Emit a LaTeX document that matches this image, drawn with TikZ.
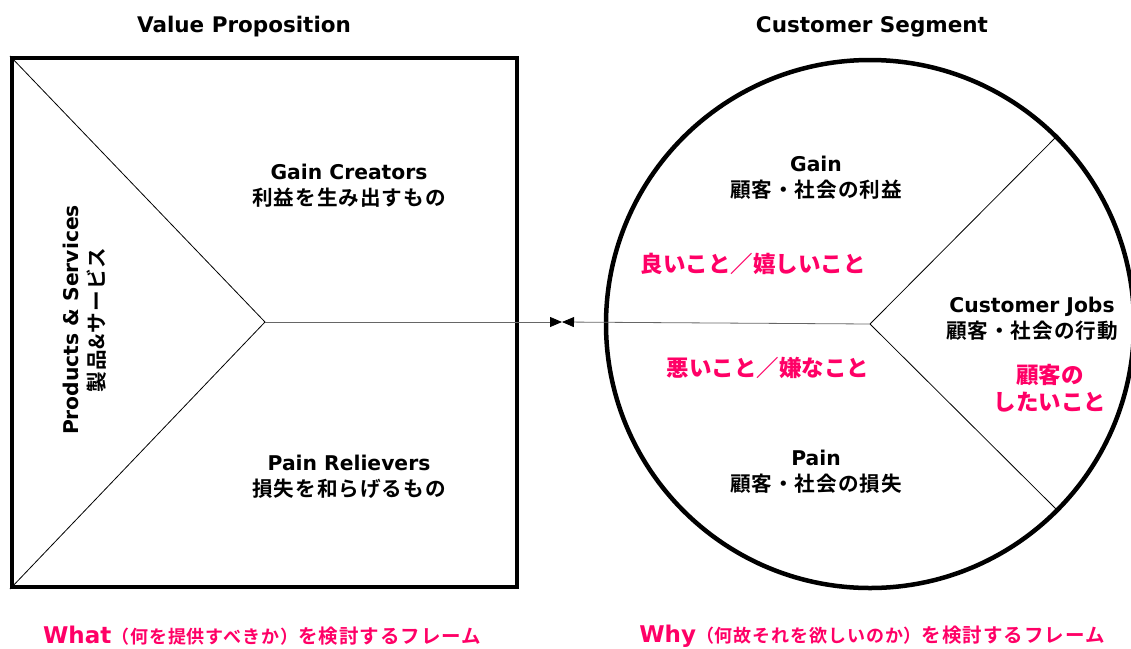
\documentclass[tikz,border=0pt]{standalone}
\usepackage{fontspec}
\setmainfont{DejaVu Sans Bold}
\newfontfamily\jp[LetterSpace=5]{Noto Sans CJK JP Bold}
\newfontfamily\blackfont{Noto Sans CJK JP Black}
\newcommand{\lat}{\fontsize{20.3}{26}\selectfont}
\newcommand{\jap}{\jp\fontsize{20.6}{26}\selectfont}
\usetikzlibrary{arrows.meta}
\definecolor{vpink}{RGB}{255,0,102}
\begin{document}
\begin{tikzpicture}[x=1pt,y=-1pt,
  lbl/.style={align=center, text=black, inner sep=0pt, font=\fontsize{20}{26}\selectfont},
  ttl/.style={font=\fontsize{21.5}{24}\selectfont, text=black},
  pnk/.style={align=center, font=\blackfont\fontsize{22.5}{27}\selectfont, text=vpink},
  bot/.style={text=vpink, inner sep=0pt},
  thin/.style={line width=0.8pt},
  tip/.style={-{Triangle[length=12pt,width=10pt,color=black]}, line width=0.8pt, draw=black!60}
]
\useasboundingbox (0,0) rectangle (1131,648);
% Square
\node[draw, line width=4pt, minimum width=505pt, minimum height=529pt, inner sep=0pt] (sq) at (264.5,322.5) {};
\coordinate (sc) at (265,322);
\draw[thin] (sq.north west) -- (sc);
\draw[thin] (sq.south west) -- (sc);
% Circle
\coordinate (cc) at (870,324);
\begin{scope}
\clip (0,0) rectangle (1131,648);
\node[draw, circle, line width=4.5pt, minimum size=528pt, inner sep=0pt] (ci) at (cc) {};
\end{scope}
\coordinate (ur) at (1058,135);
\coordinate (lr) at (1058,511);
\draw[thin] (cc) -- (ur);
\draw[thin] (cc) -- (lr);
% connector
\coordinate (mid) at (562,322);
\draw[tip] (sc) -- (mid);
\draw[tip] (cc) -- (mid);
% titles
\node[ttl] (t1) at (244,27) {Value Proposition};
\node[ttl] (t2) at (872,27) {Customer Segment};
% square labels
\node[lbl] (gc) at (349,186) {\lat Gain Creators\\\jap 利益を生み出すもの};
\node[lbl] (pr) at (349,477) {\lat Pain Relievers\\\jap 損失を和らげるもの};
\node[lbl, rotate=90] (ps) at (85,320) {\lat Products \& Services\\\jap 製品\&サービス};
% circle labels
\node[lbl] (g) at (816,178) {\lat Gain\\\jap 顧客・社会の利益};
\node[lbl] (cj) at (1032,319) {\lat Customer Jobs\\\jap 顧客・社会の行動};
\node[lbl] (p) at (816,472) {\lat Pain\\\jap 顧客・社会の損失};
% pink labels
\node[pnk] (good) at (753,264) {良いこと／嬉しいこと};
\node[pnk] (bad) at (768,368) {悪いこと／嫌なこと};
\node[pnk] (jobs) at (1050,388) {顧客の\\したいこと};
% bottom
\node[bot] (what) at (262,636) {\fontsize{23}{26}\selectfont What\jp\fontsize{18}{20}\selectfont（何を提供すべきか）\fontsize{19.5}{24}\selectfont を検討するフレーム};
\node[bot] (why) at (872,636) {\fontsize{23}{26}\selectfont Why\jp\fontsize{18}{20}\selectfont（何故それを欲しいのか）\fontsize{19.5}{24}\selectfont を検討するフレーム};
\end{tikzpicture}
\end{document}
